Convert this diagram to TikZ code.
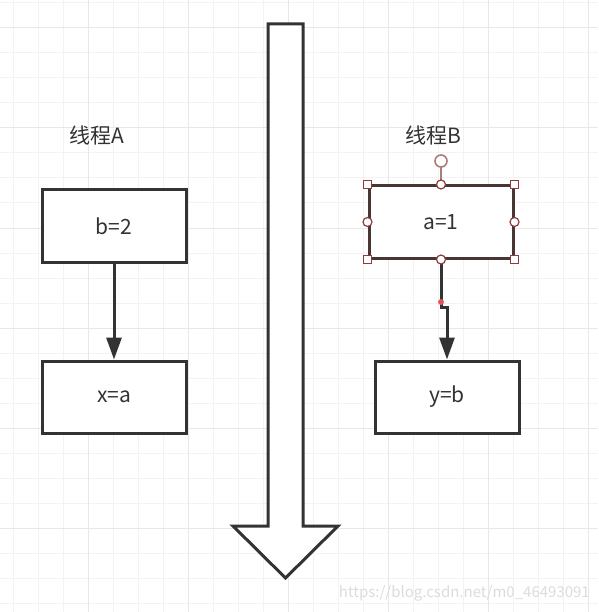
\documentclass[tikz,border=0pt]{standalone}
\usepackage{fontspec}
\setmainfont{Noto Sans CJK SC}
\usepackage{tikz}
\usetikzlibrary{arrows.meta}
\usetikzlibrary{positioning}
\usetikzlibrary{calc}

\definecolor{ink}{HTML}{333333}
\definecolor{selink}{HTML}{4A3535}
\definecolor{handle}{HTML}{8E3B3B}
\definecolor{rothandle}{HTML}{B07A7A}
\definecolor{dotred}{HTML}{E0585C}
\definecolor{gridminor}{HTML}{F3F3F3}
\definecolor{gridmajor}{HTML}{E8E8E8}
\definecolor{mark}{HTML}{DCDCDC}

\tikzset{
  gridline/.style={draw=gridminor, line width=1pt},
  gridbold/.style={draw=gridmajor, line width=1pt},
  box/.style={draw=ink, line width=3pt, fill=white, minimum width=144pt,
    minimum height=72pt, inner sep=0pt, text=ink, font=\fontsize{21}{25}\selectfont},
  title/.style={text=ink, inner sep=0pt, font=\fontsize{21}{25}\selectfont},
  conn/.style={draw=ink, line width=3pt, -{Triangle[length=22pt,width=15pt]}},
  sqhandle/.style={draw=handle, fill=white, line width=1.2pt, minimum size=8pt, inner sep=0pt},
  cirhandle/.style={draw=handle, fill=white, line width=1.2pt, circle, minimum size=9pt, inner sep=0pt},
}

\begin{document}
\begin{tikzpicture}[x=1pt, y=-1pt]
\useasboundingbox[fill=white] (0,0) rectangle (598,612);

%grid
\foreach \x in {13,38,...,588} {
\draw[gridline] (\x,0) -- (\x,612);
}
\foreach \y in {3,28,...,603} {
\draw[gridline] (0,\y) -- (598,\y);
}
\foreach \x in {88,188,...,588} {
\draw[gridbold] (\x,0) -- (\x,612);
}
\foreach \y in {28,128,...,528} {
\draw[gridbold] (0,\y) -- (598,\y);
}

%big arrow
\draw[ink, line width=3pt, fill=white, line join=miter]
  (268,24) -- (303,24) -- (303,526) -- (338,526) -- (285.5,578)
  -- (233,526) -- (268,526) -- cycle;

%thread A
\node[title] (tA) at (97,135) {线程A};
\node[box] (b2) at (114,226) {b=2};
\node[box] (xa) at (114,397) {x=a};
\draw[conn] (b2) -- (xa);

%thread B
\node[title] (tB) at (433,135) {线程B};
\node[box, draw=selink] (a1) at (441,222) {a=1};
\node[box] (yb) at (447,397) {y=b};
\draw[conn] (a1.south) |- ([yshift=52pt]yb.north) -- (yb.north);
\fill[dotred] (441,302) circle (3pt);

%selection handles
\coordinate (rot) at (441,161);
\draw[rothandle, line width=1.4pt] (rot) ++(0,6) -- (a1.north);
\draw[rothandle, line width=1.6pt, fill=white] (rot) circle (6pt);
\foreach \c in {north west, north east, south west, south east} {
\node[sqhandle] at (a1.\c) {};
}
\foreach \c in {north, west, east, south} {
\node[cirhandle] at (a1.\c) {};
}

%watermark
\node[text=mark, anchor=east, inner sep=0pt, font=\fontsize{15}{18}\selectfont]
  (wm) at (590,593) {https://blog.csdn.net/m0\_46493091};

\end{tikzpicture}
\end{document}
